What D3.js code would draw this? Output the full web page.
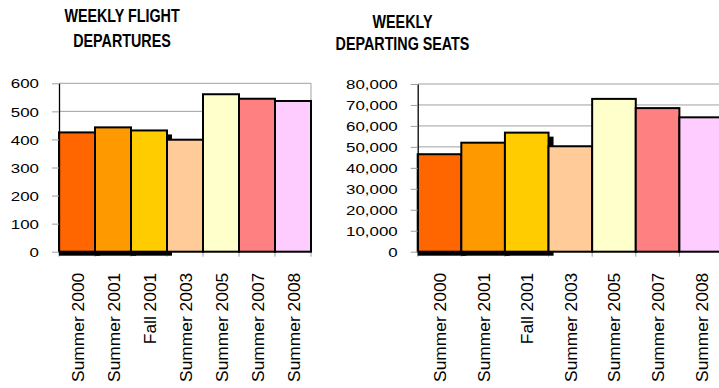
<!DOCTYPE html>
<html>
<head>
  <script src="https://d3js.org/d3.v7.min.js"></script>
  <style>
    body { margin: 0; background: #fff; }
    text { font-family: "Liberation Sans", Arial, sans-serif; fill: #000; }
    .grid line { stroke: #a0a0a0; stroke-width: 1; }
    .bar { stroke: #000; stroke-width: 2; }
    .shadow { fill: #000; }
  </style>
</head>
<body>
  <div id="chart"></div>
  <script>
    var categories = ["Summer 2000", "Summer 2001", "Fall 2001", "Summer 2003", "Summer 2005", "Summer 2007", "Summer 2008"];
    var departures = [425, 443, 432, 399, 561, 545, 537];
    var seats = [46500, 52000, 56800, 50300, 72900, 68500, 64100];
    var barColors = ["#ff6600", "#ff9900", "#ffcc00", "#ffcc99", "#ffffcc", "#ff8080", "#ffccff"];
    var departureTicks = [0, 100, 200, 300, 400, 500, 600];
    var seatTicks = [0, 10000, 20000, 30000, 40000, 50000, 60000, 70000, 80000];
    var shadowed = 3; // first three bars carry a drop shadow

    var w = 719;
    var h = 388;

    var svg = d3.select("#chart")
      .append("svg")
      .attr("width", w)
      .attr("height", h);

    function drawChart(opts) {
      var g = svg.append("g");
      var x = d3.scaleBand().domain(categories).range([opts.left, opts.right]).padding(0);
      var y = d3.scaleLinear().domain([0, opts.max]).range([251.7, opts.top]);

      // titles
      opts.title.forEach(function(line, i) {
        g.append("text")
          .attr("transform", "translate(" + opts.titleX + "," + opts.titleY[i] + ") scale(0.77,1)")
          .attr("text-anchor", "middle")
          .style("font-size", "18.6px")
          .style("font-weight", "bold")
          .text(line);
      });

      // gridlines
      g.append("g").attr("class", "grid")
        .selectAll("line").data(opts.ticks.slice(1)).enter().append("line")
        .attr("x1", opts.left)
        .attr("x2", Math.min(opts.right, w))
        .attr("y1", function(d) { return y(d); })
        .attr("y2", function(d) { return y(d); });

      if (opts.right <= w) {
        g.append("line")
          .attr("x1", opts.right).attr("x2", opts.right)
          .attr("y1", y(opts.max)).attr("y2", y(0))
          .attr("stroke", "#a0a0a0");
      }

      // x tick marks at category boundaries
      var bounds = categories.map(function(c) { return x(c); }).concat([x.range()[1]]);
      g.append("g").attr("class", "grid")
        .selectAll("line").data(bounds).enter().append("line")
        .attr("x1", function(d) { return d; })
        .attr("x2", function(d) { return d; })
        .attr("y1", y(0))
        .attr("y2", y(0) + 5);
      g.append("line")
        .attr("x1", opts.left).attr("x2", Math.min(opts.right, w))
        .attr("y1", y(0)).attr("y2", y(0))
        .attr("stroke", "#a0a0a0");

      var data = categories.map(function(c, i) { return { cat: c, value: opts.values[i], color: barColors[i], i: i }; });

      // shadows
      g.selectAll(".shadow").data(data.slice(0, shadowed)).enter().append("rect")
        .attr("class", "shadow")
        .attr("x", function(d) { return x(d.cat); })
        .attr("y", function(d) { return y(d.value) + 4; })
        .attr("width", x.bandwidth() + 5)
        .attr("height", function(d) { return y(0) - y(d.value); });

      g.selectAll(".bar").data(data).enter().append("rect")
        .attr("class", "bar")
        .attr("x", function(d) { return x(d.cat); })
        .attr("y", function(d) { return y(d.value); })
        .attr("width", x.bandwidth())
        .attr("height", function(d) { return y(0) - y(d.value); })
        .attr("fill", function(d) { return d.color; });

      // y axis
      var yAxis = g.append("g")
        .attr("transform", "translate(" + opts.left + ",0)")
        .call(d3.axisLeft(y).tickValues(opts.ticks).tickSize(7).tickSizeOuter(0).tickFormat(opts.format));
      yAxis.select(".domain").attr("stroke", "#000").attr("stroke-width", 1.3);
      yAxis.selectAll(".tick line").attr("stroke", "#a0a0a0");
      yAxis.selectAll(".tick text")
        .attr("x", -20 / 1.3)
        .attr("dy", "0.36em")
        .attr("transform", "scale(1.3,1)")
        .style("font-family", "'Liberation Sans', Arial, sans-serif")
        .style("font-size", "13px")
        .attr("fill", "#000");

      // x labels
      var xAxis = g.append("g")
        .attr("transform", "translate(0," + y(0) + ")")
        .call(d3.axisBottom(x).tickSize(0));
      xAxis.select(".domain").remove();
      xAxis.selectAll(".tick text")
        .attr("transform", "rotate(-90)")
        .attr("x", -21)
        .attr("y", 6.5)
        .attr("dy", 0)
        .style("text-anchor", "end")
        .style("font-family", "'Liberation Sans', Arial, sans-serif")
        .style("font-size", "17.4px")
        .attr("fill", "#000");
    }

    drawChart({
      left: 59, right: 311, top: 83.3, max: 600,
      values: departures, ticks: departureTicks, format: d3.format("d"),
      title: ["WEEKLY FLIGHT", "DEPARTURES"], titleX: 122, titleY: [21.7, 47.3]
    });

    drawChart({
      left: 417.7, right: 723, top: 84, max: 80000,
      values: seats, ticks: seatTicks, format: d3.format(","),
      title: ["WEEKLY", "DEPARTING SEATS"], titleX: 402.5, titleY: [28.3, 50]
    });
  </script>
</body>
</html>
